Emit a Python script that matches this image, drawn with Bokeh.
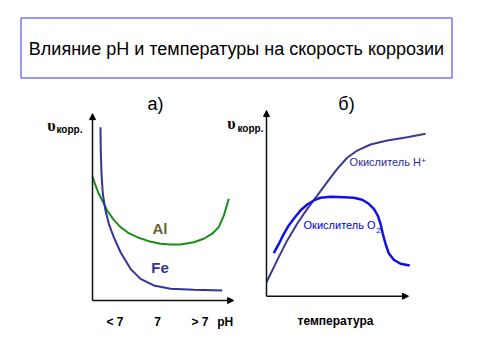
from bokeh.plotting import figure
from bokeh.models import Range1d, Arrow, NormalHead
from bokeh.embed import file_html
from bokeh.resources import INLINE
from bokeh.core.properties import value

# ---------------- data ----------------
# panel а): corrosion rate vs pH (arbitrary units)
ph_fe = [0.86, 0.89, 0.97, 1.11, 1.40, 1.76, 2.29, 3.02, 4.09, 5.17, 6.60, 8.40, 10.91, 13.97]
rate_fe = [10.02, 8.67, 7.32, 6.17, 5.20, 4.43, 3.66, 2.79, 1.83, 1.25, 0.87, 0.68, 0.62, 0.58]
ph_al = [0.0, 0.32, 0.68, 1.15, 1.58, 2.29, 3.02, 3.91, 4.81, 6.06, 7.32, 8.40, 9.48,
         10.91, 11.98, 12.89, 13.60, 14.14, 14.68]
rate_al = [7.17, 6.65, 6.17, 5.68, 5.20, 4.66, 4.24, 3.89, 3.66, 3.43, 3.28, 3.24, 3.24,
           3.37, 3.57, 3.86, 4.24, 4.91, 5.88]
ph_tick_pos = [2.42, 7.0, 11.58]
ph_tick_labels = ["< 7", "7", "> 7"]

# panel б): corrosion rate vs temperature (arbitrary units)
temp_h = [0.0, 0.75, 1.46, 2.16, 2.87, 3.57, 4.27, 4.98, 5.68, 6.39, 7.32, 8.50, 9.91, 11.20]
rate_h = [0.83, 2.13, 3.32, 4.31, 5.20, 5.99, 6.79, 7.58, 8.24, 8.67, 9.03, 9.27, 9.46, 9.67]
temp_o2 = [0.51, 0.87, 1.22, 1.57, 1.92, 2.39, 2.87, 3.33, 3.80, 4.51, 5.44, 6.15, 6.74,
           7.20, 7.56, 7.84, 8.03, 8.19, 8.38, 8.61, 8.96, 9.44, 10.09]
rate_o2 = [2.56, 3.12, 3.71, 4.21, 4.61, 5.10, 5.46, 5.70, 5.86, 5.92, 5.89, 5.86, 5.74,
           5.50, 5.20, 4.80, 4.31, 3.71, 3.12, 2.56, 2.17, 1.93, 1.83]

title_text = "Влияние рН и температуры на скорость коррозии"

# ---------------- figure ----------------
W, H = 464, 344
OFF = 8  # shift of the drawing inside the figure
p = figure(width=W, height=H, x_range=Range1d(-OFF, W - OFF), y_range=Range1d(H - OFF, -OFF),
           output_backend="svg", toolbar_location=None, min_border=0,
           x_axis_location=None, y_axis_location=None, outline_line_color=None)
p.grid.visible = False
p.background_fill_color = "white"


def span(origin, per_unit, size, up=False):
    origin = origin + OFF
    if up:
        return Range1d(-(size - origin) / per_unit, origin / per_unit)
    return Range1d(-origin / per_unit, (size - origin) / per_unit)


p.extra_x_ranges = {"ph": span(84, 9.286, W), "temp": span(258, 14.2, W)}
p.extra_y_ranges = {"ra": span(292, 17.3, H, up=True), "rb": span(287.7, 16.8, H, up=True)}

FONT = value("Liberation Sans")

# title box
p.quad(left=12.5, right=443.5, top=9.5, bottom=69.5, fill_color=None,
       line_color="#3030ff", line_width=1)
p.text(x=[228], y=[40], text=[title_text], text_font=FONT, text_font_size="18px",
       text_align="center", text_baseline="middle", text_color="black")

# panel letters
p.text(x=[147, 338], y=[95, 95], text=["а)", "б)"], text_font=FONT, text_font_size="18px",
       text_align="center", text_baseline="middle", text_color="black")

# y labels
p.text(x=[43, 223], y=[117, 115], text=["υ", "υ"], text_font=value("Liberation Serif"),
       text_font_style="bold", text_font_size="16px", text_align="center",
       text_baseline="middle", text_color="black")
p.text(x=[48, 229], y=[120.5, 119.5], text=["корр.", "корр."], text_font=FONT,
       text_font_style="bold", text_font_size="10px", text_align="left",
       text_baseline="middle", text_color="black")

# axes with arrows
def axis_arrow(x0, y0, x1, y1, xr, yr):
    p.add_layout(Arrow(end=NormalHead(size=6, fill_color="black", line_color="black", line_width=1),
                       x_start=x0, y_start=y0, x_end=x1, y_end=y1,
                       x_range_name=xr, y_range_name=yr, line_width=1.5, line_color="#111111"))

axis_arrow(0, 0, 0, 10.8, "ph", "ra")
axis_arrow(0, 0, 15.2, 0, "ph", "ra")
axis_arrow(0, 0, 0, 11.05, "temp", "rb")
axis_arrow(0, 0, 10.0, 0, "temp", "rb")

# curves panel а)
p.line(ph_al, rate_al, x_range_name="ph", y_range_name="ra", line_color="#1a8c1a", line_width=2)
p.line(ph_fe, rate_fe, x_range_name="ph", y_range_name="ra", line_color="#333399", line_width=2)
p.text(x=[7.27], y=[4.16], text=["Al"], x_range_name="ph", y_range_name="ra", text_font=FONT,
       text_font_style="bold", text_font_size="15px", text_align="center",
       text_baseline="middle", text_color="#666633")
p.text(x=[7.27], y=[1.91], text=["Fe"], x_range_name="ph", y_range_name="ra", text_font=FONT,
       text_font_style="bold", text_font_size="15px", text_align="center",
       text_baseline="middle", text_color="#333399")

# tick labels panel а)
p.text(x=ph_tick_pos, y=[0] * len(ph_tick_pos), text=ph_tick_labels, y_offset=21,
       x_range_name="ph", y_range_name="ra", text_font=FONT, text_font_style="bold",
       text_font_size="12px", text_align="center", text_baseline="middle", text_color="black")
p.text(x=[14.3], y=[0], text=["pH"], y_offset=21, x_range_name="ph", y_range_name="ra",
       text_font=FONT, text_font_style="bold", text_font_size="12px", text_align="center",
       text_baseline="middle", text_color="black")

# curves panel б)
p.line(temp_h, rate_h, x_range_name="temp", y_range_name="rb", line_color="#3a3a90", line_width=2)
p.line(temp_o2, rate_o2, x_range_name="temp", y_range_name="rb", line_color="#1010e8", line_width=2.5)

p.text(x=[10.88], y=[7.96], text=["Окислитель H"], x_range_name="temp", y_range_name="rb",
       text_font=FONT, text_font_size="11px", text_align="right", text_baseline="middle",
       text_color="#2a2aa0")
p.text(x=[11.07], y=[8.06], text=["+"], x_range_name="temp", y_range_name="rb",
       text_font=FONT, text_font_size="8px", text_align="center", text_baseline="middle",
       text_color="#2a2aa0")
p.text(x=[7.68], y=[4.21], text=["Окислитель O"], x_range_name="temp", y_range_name="rb",
       text_font=FONT, text_font_size="11px", text_align="right", text_baseline="middle",
       text_color="#0000dd")
p.text(x=[7.89], y=[3.90], text=["2"], x_range_name="temp", y_range_name="rb",
       text_font=FONT, text_font_size="8px", text_align="center", text_baseline="middle",
       text_color="#0000dd")

p.text(x=[4.86], y=[0], text=["температура"], y_offset=25, x_range_name="temp", y_range_name="rb",
       text_font=FONT, text_font_style="bold", text_font_size="12px", text_align="center",
       text_baseline="middle", text_color="black")

open("out.html", "w").write(file_html(p, INLINE))
